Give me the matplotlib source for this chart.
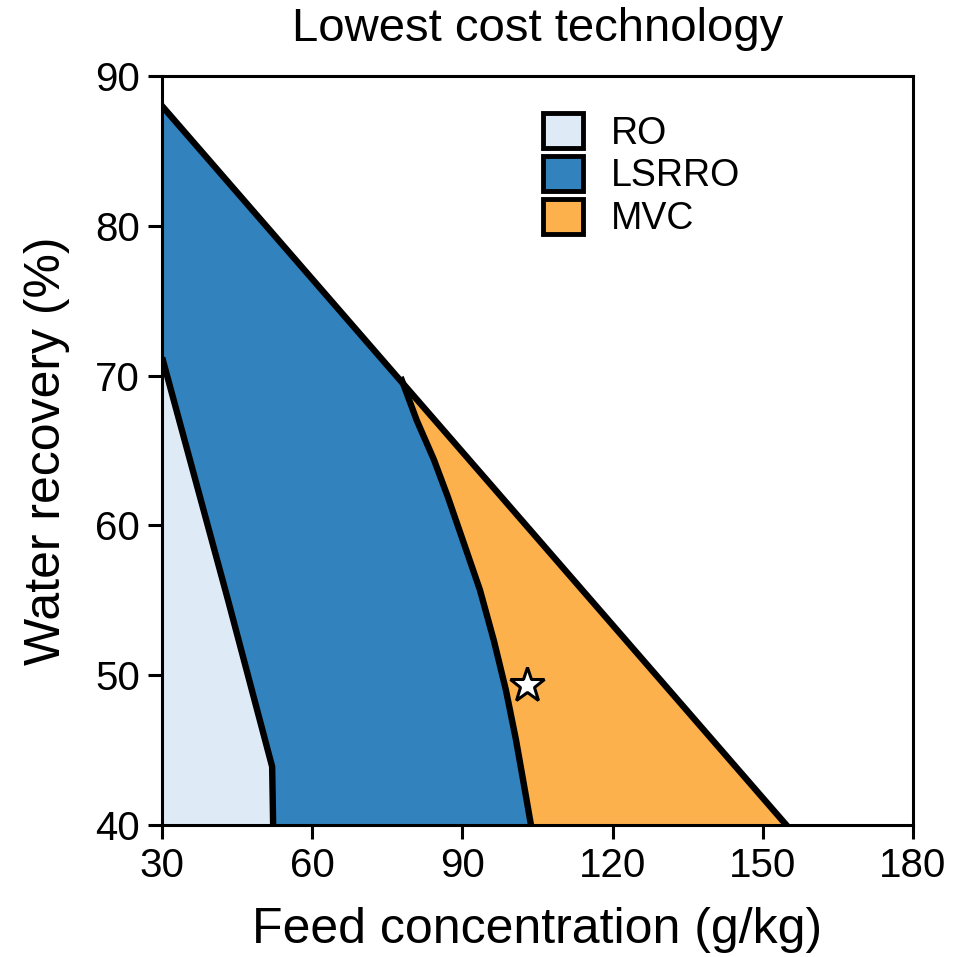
import numpy as np
import matplotlib.pyplot as plt
from matplotlib.patches import Patch

plt.rcParams['font.family'] = ['Liberation Sans', 'DejaVu Sans']

# upper feasibility limit (straight line)
limit_x = [30, 154.7]
limit_y = [88, 40]

# RO / LSRRO boundary
ro_x = [30.2, 43.2, 52.0, 52.2]
ro_y = [71.0, 55.0, 43.9, 40.0]

# LSRRO / MVC boundary
mvc_x = [77.9, 80.9, 84.3, 87.1, 90.1, 93.5, 96.3, 98.7, 100.7, 102.5, 103.7]
mvc_y = [69.7, 67.0, 64.4, 61.9, 59.0, 55.7, 52.3, 49.0, 45.7, 42.3, 40.0]

# operating point
star_x, star_y = 102.9, 49.35

techs = ['RO', 'LSRRO', 'MVC']
colors = ['#deebf7', '#3182bd', '#fdb14d']

fig = plt.figure(figsize=(9.54, 9.57), dpi=100)
ax = fig.add_axes([0.1698, 0.1379, 0.7872, 0.7827])

# regions
ro_poly = [(30, 40), (30, ro_y[0])] + list(zip(ro_x, ro_y))
ls_poly = ([(limit_x[0], limit_y[0])] + list(zip(mvc_x, mvc_y))
           + list(zip(ro_x[::-1], ro_y[::-1])) + [(30, ro_y[0])])
mvc_poly = list(zip(mvc_x, mvc_y)) + [(limit_x[1], limit_y[1])]

for poly, c in zip([ro_poly, ls_poly, mvc_poly], colors):
    px, py = zip(*poly)
    ax.fill(px, py, color=c, lw=0, zorder=1)

lw = 4.6
ax.plot(limit_x, limit_y, color='k', lw=lw, zorder=3)
ax.plot(ro_x, ro_y, color='k', lw=lw, zorder=3)
ax.plot(mvc_x, mvc_y, color='k', lw=lw, zorder=3, solid_joinstyle='round')

ax.plot(star_x, star_y, marker='*', ms=26, mfc='white', mec='k', mew=2.2,
        zorder=4, clip_on=False)

ax.set_xlim(30, 180)
ax.set_ylim(40, 90)
ax.set_xticks([30, 60, 90, 120, 150, 180])
ax.set_yticks([40, 50, 60, 70, 80, 90])
ax.tick_params(labelsize=29, length=10, width=2.2, direction='out', pad=6)
for s in ax.spines.values():
    s.set_linewidth(2.2)

ax.set_xlabel('Feed concentration (g/kg)', fontsize=36, labelpad=16)
ax.set_ylabel('Water recovery (%)', fontsize=36, labelpad=18)
ax.set_title('Lowest cost technology', fontsize=34, pad=25)

handles = [Patch(facecolor=c, edgecolor='k', lw=3.5, label=t)
           for t, c in zip(techs, colors)]
ax.legend(handles=handles, loc='upper left', bbox_to_anchor=(0.473, 0.985),
          frameon=False, fontsize=27, handlelength=1.05, handleheight=1.05,
          labelspacing=0.12, handletextpad=0.75, borderpad=0.2)

fig.savefig('out.png', dpi=100)
